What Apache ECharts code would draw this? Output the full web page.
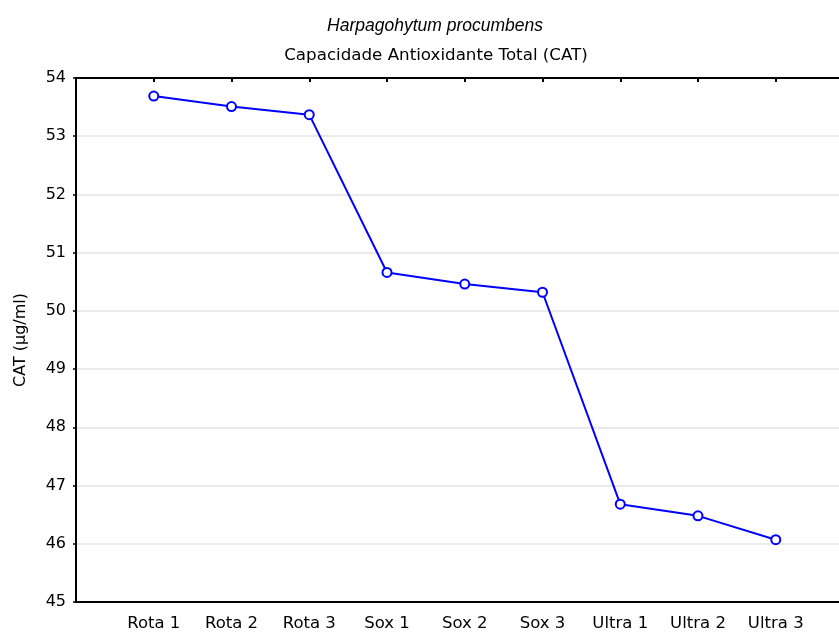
<!DOCTYPE html>
<html>
<head>
<meta charset="utf-8">
<script src="https://cdn.jsdelivr.net/npm/echarts@6/dist/echarts.min.js"></script>
<style>
  html, body { margin: 0; padding: 0; background: #fff; }
  #chart { width: 839px; height: 633px; }
</style>
</head>
<body>
<div id="chart"></div>
<script>
// Extraction methods and their total antioxidant capacity
const categories = ['Rota 1', 'Rota 2', 'Rota 3', 'Sox 1', 'Sox 2', 'Sox 3', 'Ultra 1', 'Ultra 2', 'Ultra 3'];
const catValues = [53.69, 53.51, 53.37, 50.66, 50.46, 50.32, 46.68, 46.48, 46.07];
const yTicks = { min: 45, max: 54, step: 1 };

// pad with empty slots so the points sit one step in from each edge
const axisCats = [''].concat(categories, ['']);
const seriesData = [null].concat(catValues, [null]);

const font = 'DejaVu Sans, sans-serif';
const italicFont = 'Liberation Sans, Arial, sans-serif';
const chart = echarts.init(document.getElementById('chart'));
chart.setOption({
  animation: false,
  backgroundColor: '#ffffff',
  title: [
    { text: 'Harpagohytum procumbens', left: 430, top: 12, textAlign: 'center',
      textStyle: { fontFamily: italicFont, fontSize: 17.5, fontStyle: 'italic', fontWeight: 'normal', color: '#000' } },
    { text: 'Capacidade Antioxidante Total (CAT)', left: 431, top: 42, textAlign: 'center',
      textStyle: { fontFamily: font, fontSize: 16.7, fontWeight: 'normal', color: '#000' } }
  ],
  grid: { left: 76, top: 78, width: 777.5, bottom: 31, containLabel: false, outerBoundsMode: 'none' },
  xAxis: [
    {
      type: 'category', data: axisCats, boundaryGap: false, position: 'bottom',
      axisLine: { lineStyle: { color: '#000', width: 2 } },
      axisTick: { show: false },
      axisLabel: { fontFamily: font, fontSize: 16.5, color: '#000', margin: 13, interval: 0 },
      splitLine: { show: false }
    },
    {
      type: 'category', data: axisCats, boundaryGap: false, position: 'top',
      axisLine: { lineStyle: { color: '#000', width: 2 } },
      axisTick: { show: true, inside: true, length: 4, lineStyle: { color: '#000', width: 2 },
        interval: function (i) { return i > 0 && i < axisCats.length - 1; } },
      axisLabel: { show: false },
      splitLine: { show: false }
    }
  ],
  yAxis: {
    type: 'value', min: yTicks.min, max: yTicks.max, interval: yTicks.step,
    name: 'CAT (µg/ml)', nameLocation: 'middle', nameRotate: 90, nameGap: 47,
    nameTextStyle: { fontFamily: font, fontSize: 16, color: '#000' },
    axisLine: { show: true, lineStyle: { color: '#000', width: 2 } },
    axisTick: { show: true, length: 3, lineStyle: { color: '#000', width: 1.5 } },
    axisLabel: { fontFamily: font, fontSize: 16, color: '#000', margin: 10 },
    splitLine: { show: true, lineStyle: { color: '#e3e3e3', width: 1.5 } }
  },
  series: [{
    type: 'line', data: seriesData, xAxisIndex: 0,
    symbol: 'emptyCircle', symbolSize: 9, showAllSymbol: true,
    lineStyle: { color: '#0000ff', width: 2 },
    itemStyle: { color: '#0000ff', borderWidth: 2, borderColor: '#0000ff' }
  }]
});
</script>
</body>
</html>
